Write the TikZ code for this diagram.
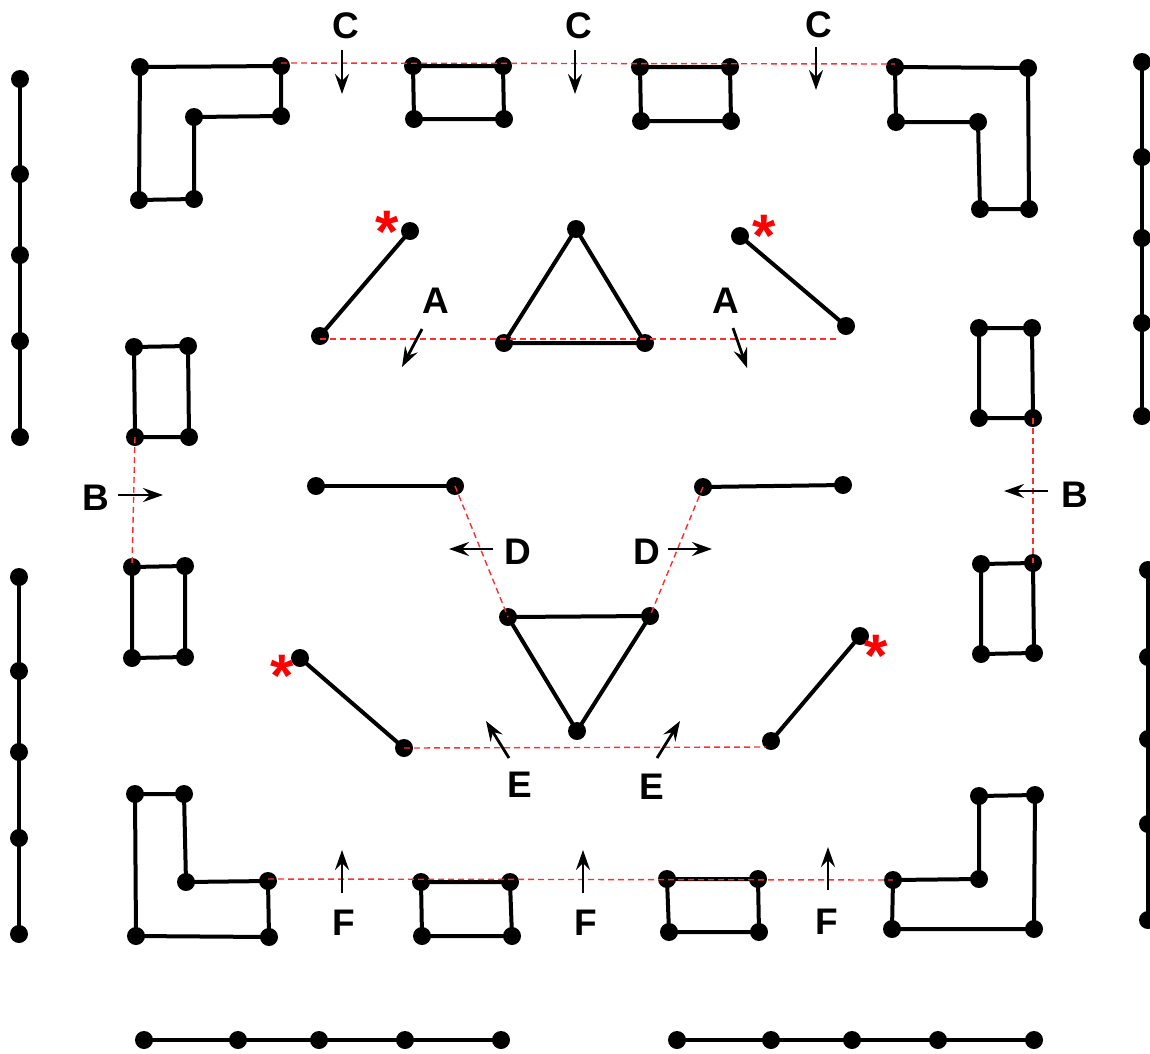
\documentclass[tikz,border=0pt]{standalone}
\usepackage{fontspec}
\setmainfont{Liberation Sans}
\usetikzlibrary{arrows.meta}
\definecolor{guidered}{RGB}{255,45,45}
\begin{document}
\begin{tikzpicture}[x=1pt,y=-1pt,
  dot/.style={circle,fill=black,inner sep=0pt,minimum size=18pt},
  seg/.style={line width=4pt,line join=round,line cap=round},
  guide/.style={draw=guidered,line width=1.4pt,dash pattern=on 6pt off 4pt},
  arr/.style={-{Stealth[length=20pt,width=14pt,inset=7pt]},line width=2.8pt},
  lab/.style={font=\fontsize{37}{37}\selectfont\bfseries,inner sep=0pt},
  star/.style={text=red,font=\fontsize{60}{60}\selectfont\bfseries,inner sep=0pt}]
\useasboundingbox (0,0) rectangle (1150,1053);

% ---------- outer chains ----------
\foreach \y [count=\i] in {79,174,255,341,437} \node[dot] (lv\i) at (20,\y) {};
\foreach \y [count=\i] in {577,671,752,838,934} \node[dot] (lw\i) at (19,\y) {};
\foreach \y [count=\i] in {62,157,238,323,416} \node[dot] (rv\i) at (1142,\y) {};
\foreach \y [count=\i] in {570,657,739,824,920} \node[dot] (rw\i) at (1148,\y) {};
\foreach \x [count=\i] in {144,238,319,405,501} \node[dot] (bh\i) at (\x,1040) {};
\foreach \x [count=\i] in {677,771,852,938,1034} \node[dot] (bk\i) at (\x,1040) {};
\draw[seg] (lv1.center) -- (lv5.center);
\draw[seg] (lw1.center) -- (lw5.center);
\draw[seg] (rv1.center) -- (rv5.center);
\draw[seg] (rw1.center) -- (rw5.center);
\draw[seg] (bh1.center) -- (bh5.center);
\draw[seg] (bk1.center) -- (bk5.center);

% ---------- top row ----------
\node[dot] (tl1) at (140,67) {};  \node[dot] (tl2) at (281,66) {};
\node[dot] (tl3) at (281,116) {}; \node[dot] (tl4) at (194,117) {};
\node[dot] (tl5) at (194,199) {}; \node[dot] (tl6) at (139,200) {};
\draw[seg] (tl1.center) -- (tl2.center) -- (tl3.center) -- (tl4.center) -- (tl5.center) -- (tl6.center) -- cycle;

\node[dot] (ta1) at (413,66) {};  \node[dot] (ta2) at (503,66) {};
\node[dot] (ta3) at (504,119) {}; \node[dot] (ta4) at (414,119) {};
\draw[seg] (ta1.center) -- (ta2.center) -- (ta3.center) -- (ta4.center) -- cycle;

\node[dot] (tb1) at (640,67) {};  \node[dot] (tb2) at (730,67) {};
\node[dot] (tb3) at (731,121) {}; \node[dot] (tb4) at (641,121) {};
\draw[seg] (tb1.center) -- (tb2.center) -- (tb3.center) -- (tb4.center) -- cycle;

\node[dot] (tr1) at (895,67) {};  \node[dot] (tr2) at (1028,68) {};
\node[dot] (tr3) at (1029,209) {};\node[dot] (tr4) at (980,209) {};
\node[dot] (tr5) at (978,122) {}; \node[dot] (tr6) at (896,122) {};
\draw[seg] (tr1.center) -- (tr2.center) -- (tr3.center) -- (tr4.center) -- (tr5.center) -- (tr6.center) -- cycle;

% ---------- side rectangles ----------
\node[dot] (la1) at (134,347) {}; \node[dot] (la2) at (188,346) {};
\node[dot] (la3) at (189,437) {}; \node[dot] (la4) at (135,437) {};
\draw[seg] (la1.center) -- (la2.center) -- (la3.center) -- (la4.center) -- cycle;
\node[dot] (lb1) at (132,567) {}; \node[dot] (lb2) at (185,566) {};
\node[dot] (lb3) at (185,657) {}; \node[dot] (lb4) at (132,658) {};
\draw[seg] (lb1.center) -- (lb2.center) -- (lb3.center) -- (lb4.center) -- cycle;

\node[dot] (ra1) at (979,328) {};  \node[dot] (ra2) at (1032,328) {};
\node[dot] (ra3) at (1033,418) {}; \node[dot] (ra4) at (979,418) {};
\draw[seg] (ra1.center) -- (ra2.center) -- (ra3.center) -- (ra4.center) -- cycle;
\node[dot] (rb1) at (981,564) {};  \node[dot] (rb2) at (1033,563) {};
\node[dot] (rb3) at (1034,653) {}; \node[dot] (rb4) at (981,654) {};
\draw[seg] (rb1.center) -- (rb2.center) -- (rb3.center) -- (rb4.center) -- cycle;

% ---------- centre ----------
\node[dot] (ut1) at (576,229) {}; \node[dot] (ut2) at (504,343) {};
\node[dot] (ut3) at (645,343) {};
\draw[seg] (ut1.center) -- (ut2.center) -- (ut3.center) -- cycle;

\node[dot] (ua1) at (320,336) {}; \node[dot] (ua2) at (410,231) {};
\draw[seg] (ua1.center) -- (ua2.center);
\node[dot] (ub1) at (740,236) {}; \node[dot] (ub2) at (846,326) {};
\draw[seg] (ub1.center) -- (ub2.center);

\node[dot] (ma1) at (316,486) {}; \node[dot] (ma2) at (455,486) {};
\draw[seg] (ma1.center) -- (ma2.center);
\node[dot] (mb1) at (703,487) {}; \node[dot] (mb2) at (843,485) {};
\draw[seg] (mb1.center) -- (mb2.center);

\node[dot] (lt1) at (508,617) {}; \node[dot] (lt2) at (650,616) {};
\node[dot] (lt3) at (577,731) {};
\draw[seg] (lt1.center) -- (lt2.center) -- (lt3.center) -- cycle;

\node[dot] (sa1) at (300,658) {}; \node[dot] (sa2) at (404,748) {};
\draw[seg] (sa1.center) -- (sa2.center);
\node[dot] (sb1) at (860,636) {}; \node[dot] (sb2) at (771,741) {};
\draw[seg] (sb1.center) -- (sb2.center);

% ---------- bottom row ----------
\node[dot] (bl1) at (135,794) {}; \node[dot] (bl2) at (184,794) {};
\node[dot] (bl3) at (186,882) {}; \node[dot] (bl4) at (268,881) {};
\node[dot] (bl5) at (269,937) {}; \node[dot] (bl6) at (136,936) {};
\draw[seg] (bl1.center) -- (bl2.center) -- (bl3.center) -- (bl4.center) -- (bl5.center) -- (bl6.center) -- cycle;

\node[dot] (ba1) at (421,882) {}; \node[dot] (ba2) at (510,882) {};
\node[dot] (ba3) at (512,936) {}; \node[dot] (ba4) at (422,936) {};
\draw[seg] (ba1.center) -- (ba2.center) -- (ba3.center) -- (ba4.center) -- cycle;

\node[dot] (bb1) at (667,879) {}; \node[dot] (bb2) at (758,879) {};
\node[dot] (bb3) at (759,932) {}; \node[dot] (bb4) at (669,932) {};
\draw[seg] (bb1.center) -- (bb2.center) -- (bb3.center) -- (bb4.center) -- cycle;

\node[dot] (br1) at (893,880) {}; \node[dot] (br2) at (979,879) {};
\node[dot] (br3) at (979,796) {}; \node[dot] (br4) at (1035,795) {};
\node[dot] (br5) at (1034,929) {};\node[dot] (br6) at (892,929) {};
\draw[seg] (br1.center) -- (br2.center) -- (br3.center) -- (br4.center) -- (br5.center) -- (br6.center) -- cycle;

% ---------- red dashed guides ----------
\coordinate (gA) at (840,339);
\coordinate (gE) at (766,747);
\draw[guide] ([yshift=3pt]tl2.center) -- ([yshift=3pt]tr1.center);
\draw[guide] ([yshift=-3pt]ua1.center) -- (gA);
\draw[guide] (la4.center) -- (lb1.center);
\draw[guide] (ra3.center) -- (rb2.center);
\draw[guide] (ma2.center) -- (lt1.center);
\draw[guide] (mb1.center) -- (lt2.center);
\draw[guide] (sa2.center) -- (gE);
\draw[guide] ([yshift=2pt]bl4.center) -- (br1.center);

% ---------- stars ----------
\node[star] (st1) at (387,232) {*};
\node[star] (st2) at (764,236) {*};
\node[star] (st3) at (282,676) {*};
\node[star] (st4) at (876,656) {*};

% ---------- labels and arrows ----------
\node[lab] (C1) at (346,26) {C};
\node[lab] (C2) at (579,26) {C};
\node[lab] (C3) at (819,25) {C};
\coordinate (c1s) at (342,50); \coordinate (c1e) at (342,94);
\coordinate (c2s) at (575,50); \coordinate (c2e) at (575,94);
\coordinate (c3s) at (816,47); \coordinate (c3e) at (816,90);
\draw[arr] (c1s) -- (c1e);
\draw[arr] (c2s) -- (c2e);
\draw[arr] (c3s) -- (c3e);

\node[lab] (A1) at (436,301) {A};
\node[lab] (A2) at (726,301) {A};
\coordinate (a1s) at (422,329); \coordinate (a1e) at (402,367);
\coordinate (a2s) at (733,328); \coordinate (a2e) at (747,368);
\draw[arr] (a1s) -- (a1e);
\draw[arr] (a2s) -- (a2e);

\node[lab] (B1) at (96,498) {B};
\node[lab] (B2) at (1075,495) {B};
\coordinate (b1s) at (118,495); \coordinate (b1e) at (163,495);
\coordinate (b2s) at (1048,491); \coordinate (b2e) at (1004,491);
\draw[arr] (b1s) -- (b1e);
\draw[arr] (b2s) -- (b2e);

\node[lab] (D1) at (518,552) {D};
\node[lab] (D2) at (647,552) {D};
\coordinate (d1s) at (493,549); \coordinate (d1e) at (449,549);
\coordinate (d2s) at (668,549); \coordinate (d2e) at (712,549);
\draw[arr] (d1s) -- (d1e);
\draw[arr] (d2s) -- (d2e);

\node[lab] (E1) at (520,785) {E};
\node[lab] (E2) at (652,787) {E};
\coordinate (e1s) at (509,758); \coordinate (e1e) at (486,721);
\coordinate (e2s) at (657,758); \coordinate (e2e) at (680,721);
\draw[arr] (e1s) -- (e1e);
\draw[arr] (e2s) -- (e2e);

\node[lab] (F1) at (344,923) {F};
\node[lab] (F2) at (586,923) {F};
\node[lab] (F3) at (827,922) {F};
\coordinate (f1s) at (342,893); \coordinate (f1e) at (342,850);
\coordinate (f2s) at (583,893); \coordinate (f2e) at (583,850);
\coordinate (f3s) at (828,890); \coordinate (f3e) at (828,847);
\draw[arr] (f1s) -- (f1e);
\draw[arr] (f2s) -- (f2e);
\draw[arr] (f3s) -- (f3e);
\end{tikzpicture}
\end{document}
